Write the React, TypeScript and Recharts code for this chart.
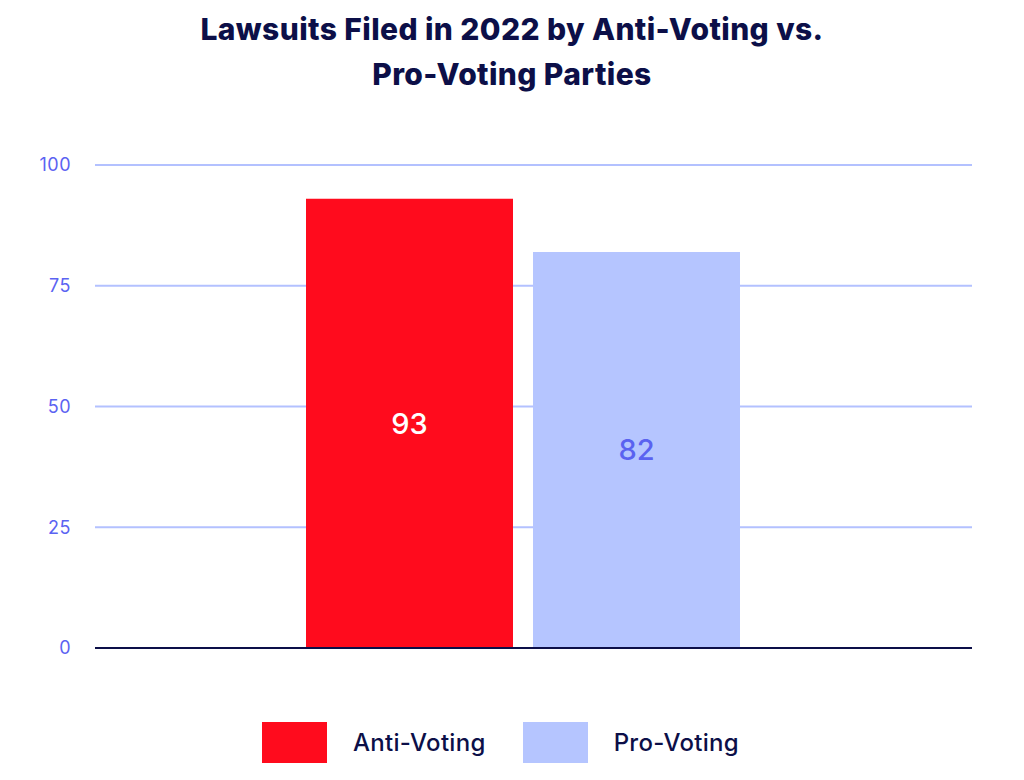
import { BarChart, Bar, XAxis, YAxis, CartesianGrid, LabelList } from 'recharts';

const categories = ['2022'];
const antiVoting = [93];
const proVoting = [82];
const yTicks = [0, 25, 50, 75, 100];

const seriesInfo = [
  { key: 'anti', name: 'Anti-Voting', color: '#ff0b1d', labelColor: '#ffffff' },
  { key: 'pro', name: 'Pro-Voting', color: '#b5c5ff', labelColor: '#5a62f0' },
];

const data = categories.map((c, i) => ({ name: c, anti: antiVoting[i], pro: proVoting[i] }));

const NAVY = '#0c0f48';
const FONT = 'Inter, "Liberation Sans", sans-serif';

const App = () => {
  return (
    <div style={{ position: 'absolute', top: 0, left: 0, width: 1024, height: 780, background: '#fff', fontFamily: FONT }}>
      <div
        style={{
          position: 'absolute',
          top: 7,
          left: 0,
          width: 1024,
          textAlign: 'center',
          color: NAVY,
          fontSize: 30,
          fontWeight: 800,
          lineHeight: '45px',
          letterSpacing: 0.4,
        }}
      >
        Lawsuits Filed in 2022 by Anti-Voting vs.
        <br />
        Pro-Voting Parties
      </div>

      <div style={{ position: 'absolute', top: 0, left: 0 }}>
        <BarChart
          width={1024}
          height={780}
          data={data}
          margin={{ top: 165, right: 52, left: 35, bottom: 131 }}
          barSize={207}
          barGap={20}
        >
          <CartesianGrid vertical={false} stroke="#b3c1ff" strokeWidth={2} />
          <XAxis
            dataKey="name"
            tick={false}
            tickLine={false}
            axisLine={{ stroke: NAVY, strokeWidth: 2 }}
            height={1}
            padding={{ left: 0, right: 22 }}
          />
          <YAxis
            width={60}
            domain={[0, 100]}
            ticks={yTicks}
            axisLine={false}
            tickLine={false}
            tickSize={0}
            tickMargin={24}
            tick={{ fill: '#5b63f2', fontSize: 18, fontFamily: FONT, letterSpacing: 0.5 }}
          />
          {seriesInfo.map((s) => (
            <Bar key={s.key} dataKey={s.key} name={s.name} fill={s.color} isAnimationActive={false}>
              <LabelList
                dataKey={s.key}
                position="center"
                fill={s.labelColor}
                style={{ fontSize: 29, fontFamily: FONT, fontWeight: 500 }}
              />
            </Bar>
          ))}
        </BarChart>
      </div>

      {/* legend */}
      <div style={{ position: 'absolute', top: 722, left: 262, display: 'flex', alignItems: 'center' }}>
        {seriesInfo.map((s, i) => (
          <div key={s.key} style={{ display: 'flex', alignItems: 'center', marginLeft: i === 0 ? 0 : 37 }}>
            <div style={{ width: 65, height: 41, background: s.color }} />
            <span style={{ marginLeft: 26, fontSize: 24, fontWeight: 500, color: NAVY, letterSpacing: 0.3 }}>{s.name}</span>
          </div>
        ))}
      </div>
    </div>
  );
};

export default App;
